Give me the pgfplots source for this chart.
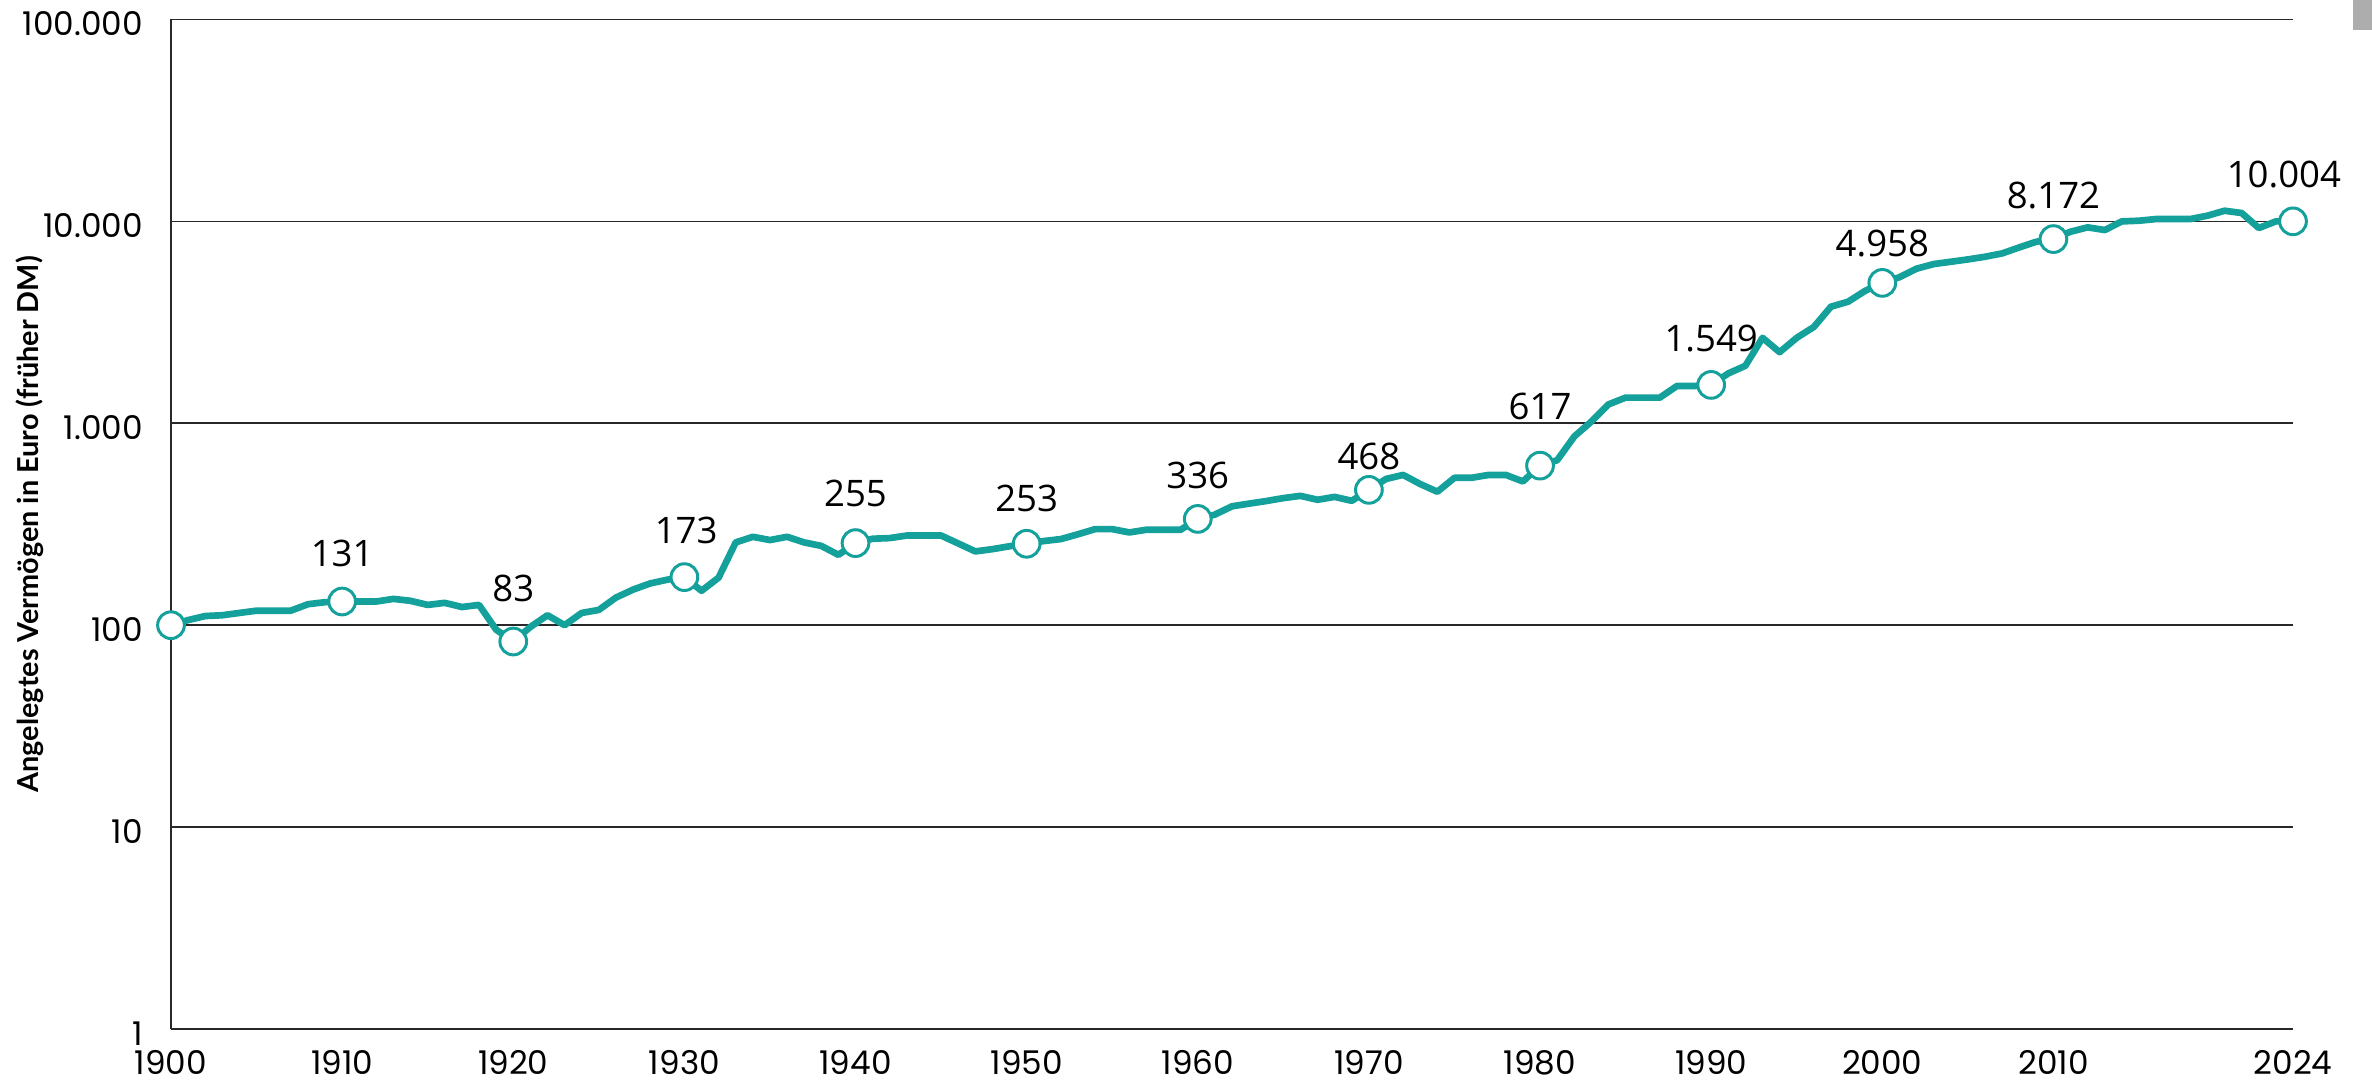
\documentclass[border=0pt]{standalone}
\usepackage{fontspec}
\setmainfont{Open Sans}
\newfontfamily\tickfont{Poppins}
\newfontfamily\labfont{Lato}
\usepackage{pgfplots}
\pgfplotsset{compat=1.18}
\usepackage{pgfplotstable}
\definecolor{teal1}{RGB}{20,160,155}
\definecolor{gridc}{RGB}{40,40,40}

\pgfplotstableread{
year value
1900 100
1901 106
1902 111
1903 112
1904 115
1905 118
1906 118
1907 118
1908 127
1909 130
1910 131
1911 131
1912 131
1913 135
1914 132
1915 126
1916 129
1917 123
1918 126
1919 95
1920 83
1921 98
1922 112
1923 100
1924 115
1925 119
1926 137
1927 150
1928 161
1929 168
1930 173
1931 148
1932 172
1933 257
1934 274
1935 264
1936 274
1937 257
1938 247
1939 223
1940 255
1941 268
1942 270
1943 278
1944 278
1945 278
1946 254
1947 232
1948 238
1949 246
1950 253
1951 261
1952 267
1953 282
1954 299
1955 299
1956 288
1957 297
1958 297
1959 297
1960 336
1961 353
1962 388
1963 400
1964 412
1965 426
1966 437
1967 418
1968 432
1969 413
1970 468
1971 530
1972 555
1973 500
1974 458
1975 537
1976 537
1977 555
1978 555
1979 515
1980 617
1981 656
1982 860
1983 1020
1984 1240
1985 1340
1986 1340
1987 1340
1988 1530
1989 1530
1990 1549
1991 1766
1992 1927
1993 2650
1994 2250
1995 2650
1996 3000
1997 3780
1998 4000
1999 4530
2000 4958
2001 5290
2002 5830
2003 6145
2004 6310
2005 6480
2006 6680
2007 6940
2008 7430
2009 7930
2010 8172
2011 8889
2012 9340
2013 9060
2014 10000
2015 10076
2016 10270
2017 10270
2018 10270
2019 10670
2020 11290
2021 11000
2022 9270
2023 10000
2024 10004
}\datatable

\pgfplotstableread{
year value label shift xs
1900 100 {} 0 0
1910 131 131 13.8 0
1920 83 83 15.1 0
1930 173 173 13.3 0.5
1940 255 255 14.2 0
1950 253 253 12.9 0
1960 336 336 12.5 0
1970 468 468 9.5 0
1980 617 617 16.8 0
1990 1549 1.549 13.3 0
2000 4958 4.958 11.2 0
2010 8172 8.172 12.5 0
2024 10004 10.004 13.3 -2.6
}\marktable

\begin{document}
\begin{tikzpicture}
\useasboundingbox (0,0) rectangle (23.72cm,10.89cm);
\fill[black!32] (23.53cm,10.59cm) rectangle (23.72cm,10.89cm);
\node[rotate=90, font=\labfont\bfseries\fontsize{8.2}{10}\selectfont] at (0.30cm,5.6475cm) {Angelegtes Vermögen in Euro (früher DM)};
\begin{axis}[
  at={(1.71cm,0.60cm)}, anchor=south west,
  scale only axis, width=21.22cm, height=10.095cm,
  ymode=log, ymin=1, ymax=100000, xmin=1900, xmax=2024,
  xtick={1900,1910,1920,1930,1940,1950,1960,1970,1980,1990,2000,2010,2024},
  xticklabels={1900,1910,1920,1930,1940,1950,1960,1970,1980,1990,2000,2010,2024},
  ytick={1,10,100,1000,10000,100000},
  yticklabels={1,10,100,1.000,10.000,100.000},
  minor ytick={},
  ymajorgrids, major grid style={gridc, line width=0.45pt},
  axis x line*=bottom, axis y line*=left,
  axis line style={gridc, line width=0.55pt},
  major tick length=0pt, minor tick length=0pt,
  tick label style={font=\tickfont\fontsize{9.3}{11}\selectfont, text=black},
  yticklabel style={xshift=-4.5pt, yshift=-1.2pt},
  xticklabel style={yshift=-2.6pt},
  clip=false,
]
\addplot[teal1, line width=1.9pt, line join=round] table[x=year,y=value]{\datatable};
\addplot[only marks, mark=*, mark size=3.8pt,
  mark options={fill=white, draw=teal1, line width=0.85pt},
  nodes near coords, point meta=explicit symbolic,
  visualization depends on={\thisrow{shift} \as \myshift},
  visualization depends on={\thisrow{xs} \as \myxs},
  every node near coord/.style={font=\fontsize{10.4}{12}\selectfont, text=black, anchor=center, yshift=\myshift, xshift=\myxs}]
  table[x=year,y=value,meta=label]{\marktable};
\end{axis}
\end{tikzpicture}
\end{document}
